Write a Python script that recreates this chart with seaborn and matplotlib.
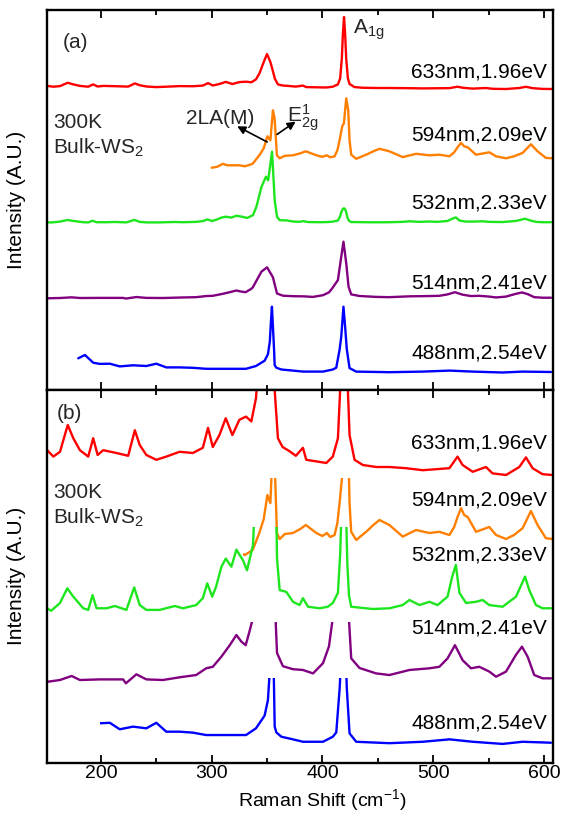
import numpy as np
import pandas as pd
import matplotlib
matplotlib.use("Agg")
import matplotlib.pyplot as plt
import seaborn as sns
from matplotlib.patches import Rectangle
from matplotlib.ticker import MultipleLocator

# ---------------- data (Raman shift cm-1, relative intensity) ----------------
lasers = ["633nm,1.96eV", "594nm,2.09eV", "532nm,2.33eV", "514nm,2.41eV", "488nm,2.54eV"]
colors = ["#FF0000", "#FF7F00", "#1EE61E", "#800080", "#0000FF"]

red_633 = [(151.5, 3.1), (157, 2.3), (163, 2.9), (170, 6.25), (175, 4.6), (181, 3.1), (188.5, 2.3),
           (193, 4.6), (197, 2.5), (202, 3.1), (214, 2.75), (224.6, 2.4), (230.6, 5.6), (235, 3.75),
           (241, 2.5), (250, 1.9), (259, 2.3), (271, 2.9), (283, 2.75), (292, 3.4), (296.7, 5.9),
           (301, 3.5), (307, 5.0), (312.7, 7.1), (318.7, 5.0), (325, 6.9), (331, 7.3), (335.8, 6.7),
           (340, 9.6), (343.3, 16), (347, 27), (350, 35), (353, 27), (355.5, 17), (357, 10.4),
           (359.8, 4.6), (364, 3.5), (370, 3.0), (376, 2.4), (382.4, 3.4), (385.4, 1.9), (394.5, 1.7),
           (403.5, 1.5), (409.4, 2.3), (414, 4.6), (416, 10.6), (417.5, 30), (418.5, 55), (419.5, 72),
           (420.5, 55), (421.5, 30), (423, 10.6), (424.5, 5.0), (429, 1.9), (436.5, 1.25), (448.5, 1.0),
           (460.5, 1.0), (475.5, 0.85), (490.6, 0.6), (514.7, 0.85), (522, 2.3), (526.6, 1.25),
           (535.7, 0.4), (547.7, 1.0), (553.7, 0.2), (565.8, 0), (577.8, 1.0), (583.8, 2.2),
           (589.8, 0.85), (598.8, 0.1), (607.8, 0)]

orange_594 = [(300, -9.4), (305, -8.5), (310, -5.5), (314, -7), (325, -7), (330, -8), (337, -5.5),
              (343, 3), (347, 10), (350.3, 22), (353, 18), (355.3, 48), (356.8, 40), (358.9, 3),
              (361.4, 0), (366, 2.5), (373.4, 3), (380, 5), (385, 7), (394.5, 3), (400, 1.5), (404, 3),
              (407, 1), (411, 2), (413.5, 8), (415.5, 18), (417.9, 32), (419.4, 35), (421.5, 60),
              (423.3, 48), (424.5, 18), (426, 3.6), (430.5, -0.5), (439.5, 3.6), (446, 7), (451.5, 9.5),
              (460.5, 7), (472.5, 1.2), (484.6, 4.5), (496.6, 3), (505.6, 3.6), (514.7, 2), (519, 6),
              (522, 11), (525.2, 15.4), (528, 12), (531.2, 11), (538.7, 3.6), (550.7, 6), (556.8, 2),
              (565.8, 0), (573, 2), (580.8, 5.4), (588.3, 14), (594.3, 7), (601.8, 0.4), (607.8, 0)]

green_532 = [(151.5, 0.08), (155, -0.2), (163, 0.67), (169.6, 2.3), (175, 1.37), (184, 0.08),
             (188.5, -0.1), (192.4, 1.55), (196, 0.08), (205, 0.08), (212.6, 0.33), (223, -0.1),
             (230, 2.4), (235, 0.44), (241, -0.1), (253, -0.1), (266.7, 0.33), (274, 0.08), (286, 0.44),
             (292, 1.2), (296, 2.85), (300.5, 1.37), (304, 2.5), (308.8, 4.7), (312.7, 5.6), (317.8, 4.7),
             (322.3, 6.6), (328.3, 5.4), (331.9, 4.3), (337.3, 7.1), (340.4, 15.6), (345, 35.6),
             (349, 45.6), (351, 42), (354.5, 70.6), (356.9, 22), (359, 5.6), (361.4, 2.1), (367.4, 1.9),
             (373.4, 0.8), (379.4, 0.44), (382.4, 1.2), (387, 0.25), (397.4, 0.08), (404.9, 0.25),
             (409.4, 0.67), (414, 1.8), (416, 6), (417, 10), (418.5, 13.5), (419.5, 14), (420.5, 13),
             (421.5, 10), (422.5, 5), (424, 1.5), (426, 0.25), (445.5, 0), (460.5, 0.08), (472.5, 0.44),
             (478.6, 1.0), (487.6, 0.44), (496.6, 0.8), (504, 0.44), (513, 1.37), (517, 3.5),
             (520.5, 4.9), (523.7, 1.8), (529.7, 0.67), (538.7, 0.8), (544.7, 1.0), (550.7, 0.44),
             (562.7, 0.25), (574.8, 1.37), (583, 3.6), (586.8, 2.1), (592.8, 0.44), (598.8, 0.08),
             (606.4, 0.08)]

purple_514 = [(151.5, -0.3), (163, 0), (173.5, 0.67), (181, 0), (199, 0.1), (220, 0.1), (222.5, -0.55),
              (232, 0.95), (241, 0.1), (256, 0), (271, 0.45), (286, 0.83), (295, 1.95), (301, 2.2),
              (308.8, 3.9), (316.3, 5.8), (322.3, 7.5), (326.8, 6.4), (330.7, 5.8), (333.7, 7.8),
              (336.4, 9.7), (337.3, 11), (344.9, 26.3), (350, 30.7), (355.3, 20.7), (357.8, 9.7),
              (359, 4.5), (364.3, 2.3), (373.4, 1.8), (382.4, 1.67), (391.5, 1.1), (400.5, 2.8),
              (405.9, 5.6), (408.9, 9.7), (414, 18), (417, 41.3), (419, 56.3), (421.5, 34.7),
              (423.6, 11.3), (426, 3.6), (433.5, 2.0), (448.5, 1.1), (460.5, 0.83), (478.6, 1.67),
              (496.6, 1.95), (505.6, 2.2), (513, 3.6), (519.7, 5.8), (526.6, 3.3), (534.2, 1.95),
              (541.7, 2.2), (550.7, 1.4), (556.8, 0.55), (565.8, 1.4), (574.8, 4.2), (580.2, 5.55),
              (585.3, 3.9), (591.3, 0.83), (598.8, 0.28), (606.4, 0.28)]

blue_488 = [(179.5, 13.4), (185.5, 16.7), (193, 9), (199, 7.8), (208, 8.0), (217, 5.3), (229, 6.4),
            (241, 5.7), (250, 8.0), (259, 4.3), (271, 4.3), (283, 3.9), (295, 2.9), (313, 2.9),
            (331, 2.9), (340, 5.7), (347.8, 11), (350.8, 17.5), (352.5, 30), (353.5, 50), (354.4, 65),
            (355.3, 45), (356.2, 25), (356.9, 6.4), (358.4, 4), (362.9, 2.2), (373.4, 1.1), (382.4, 0.1),
            (400.5, 0.1), (409.4, 2.2), (412.5, 4), (415.5, 22), (417, 35), (419, 65), (420.5, 45),
            (422, 22.5), (424.5, 3.6), (430.5, 0.1), (460.5, -0.5), (490.6, 0.1), (514.7, 1.1),
            (535.7, 0.1), (562.7, -0.8), (580.8, 0.1), (606.4, -0.3)]

spectra = [red_633, orange_594, green_532, purple_514, blue_488]

# ---------------- layout / style parameters ----------------
top_offset = [301, 231.7, 167.7, 92, 18.3]
bot_offset = [287.7, 223.7, 153.7, 82.7, 20.7]
zoom_factor = [8, 2, 9, 6, 2.4]
bot_cut = [372.7, 284.7, 236, 141, 84.4]
bot_start = [151, 328, 151, 151, 199]
top_label_y = [318, 255, 187, 107, 37]
bot_label_y = [319.7, 262.7, 207.7, 134.7, 39.7]
XMIN, XMAX = 151, 608.5
TOP_YMAX, BOT_YMAX = 380, 372.7

sns.set_theme(style="white")
plt.rcParams["font.family"] = ["Liberation Sans", "DejaVu Sans"]
plt.rcParams["mathtext.fontset"] = "custom"
plt.rcParams["mathtext.rm"] = "Liberation Sans"
plt.rcParams["mathtext.it"] = "Liberation Sans:italic"
plt.rcParams["mathtext.default"] = "regular"

W, H = 567, 813
fig = plt.figure(figsize=(W / 100, H / 100), dpi=100)
ax_top = fig.add_axes([46.7 / W, 1 - 390 / H, 506.6 / W, 380 / H])
ax_bot = fig.add_axes([46.7 / W, 1 - 762.7 / H, 506.6 / W, 372.7 / H])

FS = 15
FS_AX = 14
for i, spec in enumerate(spectra):
    df = pd.DataFrame(spec, columns=["shift", "I"])
    df["top"] = top_offset[i] + df["I"]
    df["bot"] = bot_offset[i] + zoom_factor[i] * df["I"]
    sns.lineplot(data=df, x="shift", y="top", ax=ax_top, color=colors[i], lw=1.7,
                 legend=False, sort=False, estimator=None)
    sns.lineplot(data=df, x="shift", y="bot", ax=ax_bot, color=colors[i], lw=1.7,
                 legend=False, sort=False, estimator=None)
    line = ax_bot.lines[-1]
    rect = Rectangle((bot_start[i], 0), XMAX - bot_start[i], bot_cut[i], transform=ax_bot.transData)
    line.set_clip_path(rect)
    ax_top.text(603, top_label_y[i], lasers[i], ha="right", va="center", fontsize=FS, color="black")
    ax_bot.text(603, bot_label_y[i], lasers[i], ha="right", va="center", fontsize=FS, color="black")

for ax, ymax in ((ax_top, TOP_YMAX), (ax_bot, BOT_YMAX)):
    ax.set_xlim(XMIN, XMAX)
    ax.set_ylim(0, ymax)
    ax.set_yticks([])
    ax.xaxis.set_major_locator(MultipleLocator(100))
    ax.xaxis.set_minor_locator(MultipleLocator(50))
    ax.tick_params(axis="x", which="both", direction="in", top=True, bottom=True,
                   color="black", width=1.3, labelsize=FS_AX, pad=2, labelcolor="black")
    ax.tick_params(axis="x", which="major", length=6)
    ax.tick_params(axis="x", which="minor", length=3.5)
    for s in ax.spines.values():
        s.set_color("black")
        s.set_linewidth(1.7)
    ax.set_ylabel("Intensity (A.U.)", fontsize=FS, color="black")
    ax.yaxis.set_label_coords(-0.041, 0.5)
    ax.set_xlabel("")

ax_top.tick_params(axis="x", labelbottom=False)
ax_bot.set_xlabel("Raman Shift (cm$^{-1}$)", fontsize=FS_AX, color="black")
ax_bot.xaxis.set_label_coords(0.545, -0.0665)

# annotations
ax_top.text(165.7, 348, "(a)", fontsize=FS, va="center", ha="left")
ax_bot.text(160.3, 349.7, "(b)", fontsize=FS, va="center", ha="left")
ax_top.text(156.7, 267, "300K", fontsize=FS, va="center", ha="left")
ax_top.text(156.7, 242, "Bulk-WS$_2$", fontsize=FS, va="center", ha="left")
ax_bot.text(156.7, 270.7, "300K", fontsize=FS, va="center", ha="left")
ax_bot.text(156.7, 244.7, "Bulk-WS$_2$", fontsize=FS, va="center", ha="left")
ax_top.text(427.2, 360, "A$_{1g}$", fontsize=FS, va="center", ha="left")
ax_top.text(277.2, 272, "2LA(M)", fontsize=FS, va="center", ha="left")
ax_top.text(367.7, 272, "E$^{1}_{2g}$", fontsize=FS, va="center", ha="left")
ax_top.annotate("", xy=(320.8, 265), xytext=(352.4, 246.7),
                arrowprops=dict(arrowstyle="-|>", color="black", lw=1.2, mutation_scale=12))
ax_top.annotate("", xy=(377.9, 270), xytext=(356.9, 254),
                arrowprops=dict(arrowstyle="-|>", color="black", lw=1.2, mutation_scale=12))

fig.savefig("out.png", dpi=100)
